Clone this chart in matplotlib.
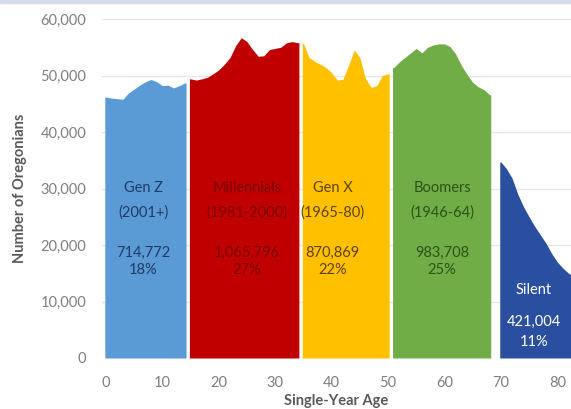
import numpy as np
import matplotlib.pyplot as plt
from matplotlib.patches import Rectangle

# generations: name, birth years, total, share
gen_names = ["Gen Z", "Millennials", "Gen X", "Boomers", "Silent"]
gen_years = ["(2001+)", "(1981-2000)", "(1965-80)", "(1946-64)", ""]
gen_totals = ["714,772", "1,065,796", "870,869", "983,708", "421,004"]
gen_shares = ["18%", "27%", "22%", "25%", "11%"]
gen_colors = ["#5b9bd5", "#c00000", "#ffc000", "#70ad47", "#2b4fa0"]
text_colors = ["#1f3a66", "#7a0000", "#5a4300", "#2c5218", "#ffffff"]

# single-year ages and counts (thousands)
genz_ages = np.arange(0, 15)
genz_pop = [46.2, 46.0, 45.9, 45.8, 46.9, 47.6, 48.3, 48.9, 49.3, 48.9,
            48.2, 48.3, 47.8, 48.2, 48.7]
mill_ages = np.arange(15, 35)
mill_pop = [49.4, 49.2, 49.4, 49.7, 50.3, 51.0, 52.0, 53.2, 55.3, 56.7,
            56.0, 54.6, 53.4, 53.5, 54.6, 54.8, 55.0, 55.8, 56.0, 55.8]
genx_ages = np.arange(35, 51)
genx_pop = [55.7, 53.2, 52.5, 52.0, 51.4, 50.5, 49.2, 49.3, 51.8, 54.5,
            53.2, 49.5, 47.9, 48.2, 50.0, 50.3]
boom_ages = np.arange(51, 69)
boom_pop = [51.4, 52.4, 53.2, 54.0, 54.8, 54.0, 55.0, 55.4, 55.6, 55.6,
            55.1, 53.8, 51.8, 50.2, 48.8, 48.0, 47.5, 46.6]
silent_ages = np.arange(70, 84)
silent_pop = [34.7, 33.5, 31.8, 29.0, 26.8, 25.0, 23.3, 21.8, 20.3, 18.5,
              17.0, 15.9, 15.0, 14.3]

series = [(genz_ages, genz_pop), (mill_ages, mill_pop), (genx_ages, genx_pop),
          (boom_ages, boom_pop), (silent_ages, silent_pop)]

fig = plt.figure(figsize=(5.71, 4.09), dpi=100)
plt.rcParams['font.family'] = ['Lato', 'DejaVu Sans']
ax = fig.add_axes([0.178, 0.1247, 0.822, 0.8288])

for (ages, pop), col in zip(series, gen_colors):
    x = np.concatenate([[ages[0] - 0.2], ages, [ages[-1] + 0.2]])
    y = np.concatenate([[pop[0]], pop, [pop[-1]]]) * 1000
    ax.fill_between(x, 0, y, color=col, linewidth=0, zorder=2)

# label positions (age, value) for each block of text
label_x = [6.6, 25.0, 40.2, 59.6, 75.8]
for i in range(5):
    c = text_colors[i]
    if gen_names[i] == "Silent":
        ax.text(label_x[i], 12000, gen_names[i], color=c, ha="center", va="center", fontsize=10.5, zorder=3)
        ax.text(label_x[i], 6400, gen_totals[i], color=c, ha="center", va="center", fontsize=10.5, zorder=3)
        ax.text(label_x[i], 2900, gen_shares[i], color=c, ha="center", va="center", fontsize=10.5, zorder=3)
    else:
        ax.text(label_x[i], 30100, gen_names[i], color=c, ha="center", va="center", fontsize=10.5, zorder=3)
        ax.text(label_x[i], 25700, gen_years[i], color=c, ha="center", va="center", fontsize=10.5, zorder=3)
        ax.text(label_x[i], 18600, gen_totals[i], color=c, ha="center", va="center", fontsize=10.5, zorder=3)
        ax.text(label_x[i], 15600, gen_shares[i], color=c, ha="center", va="center", fontsize=10.5, zorder=3)

ax.set_xlim(-0.76, 82.43)
ax.set_ylim(0, 60000)
ax.set_xticks(range(0, 90, 10))
ax.set_yticks(range(0, 70000, 10000))
ax.set_yticklabels(["{:,}".format(v) for v in range(0, 70000, 10000)])
ax.grid(axis="y", color="#e6e6e6", linewidth=1.0, zorder=0)
ax.set_axisbelow(True)
for s in ax.spines.values():
    s.set_visible(False)
ax.tick_params(length=0, colors="#7f7f7f", labelsize=10.5)
ax.tick_params(axis="y", pad=11)
ax.tick_params(axis="x", pad=13)
ax.set_xlabel("Single-Year Age", fontsize=10.5, fontweight="bold", color="#595959", labelpad=3)
ax.set_ylabel("Number of Oregonians", fontsize=10.5, fontweight="bold", color="#595959", labelpad=10)

# thin band at the top of the screenshot
fig.patches.append(Rectangle((0, 406 / 409), 1, 3 / 409, transform=fig.transFigure,
                             color="#d6dde8", zorder=0))

fig.savefig("out.png", dpi=100)
